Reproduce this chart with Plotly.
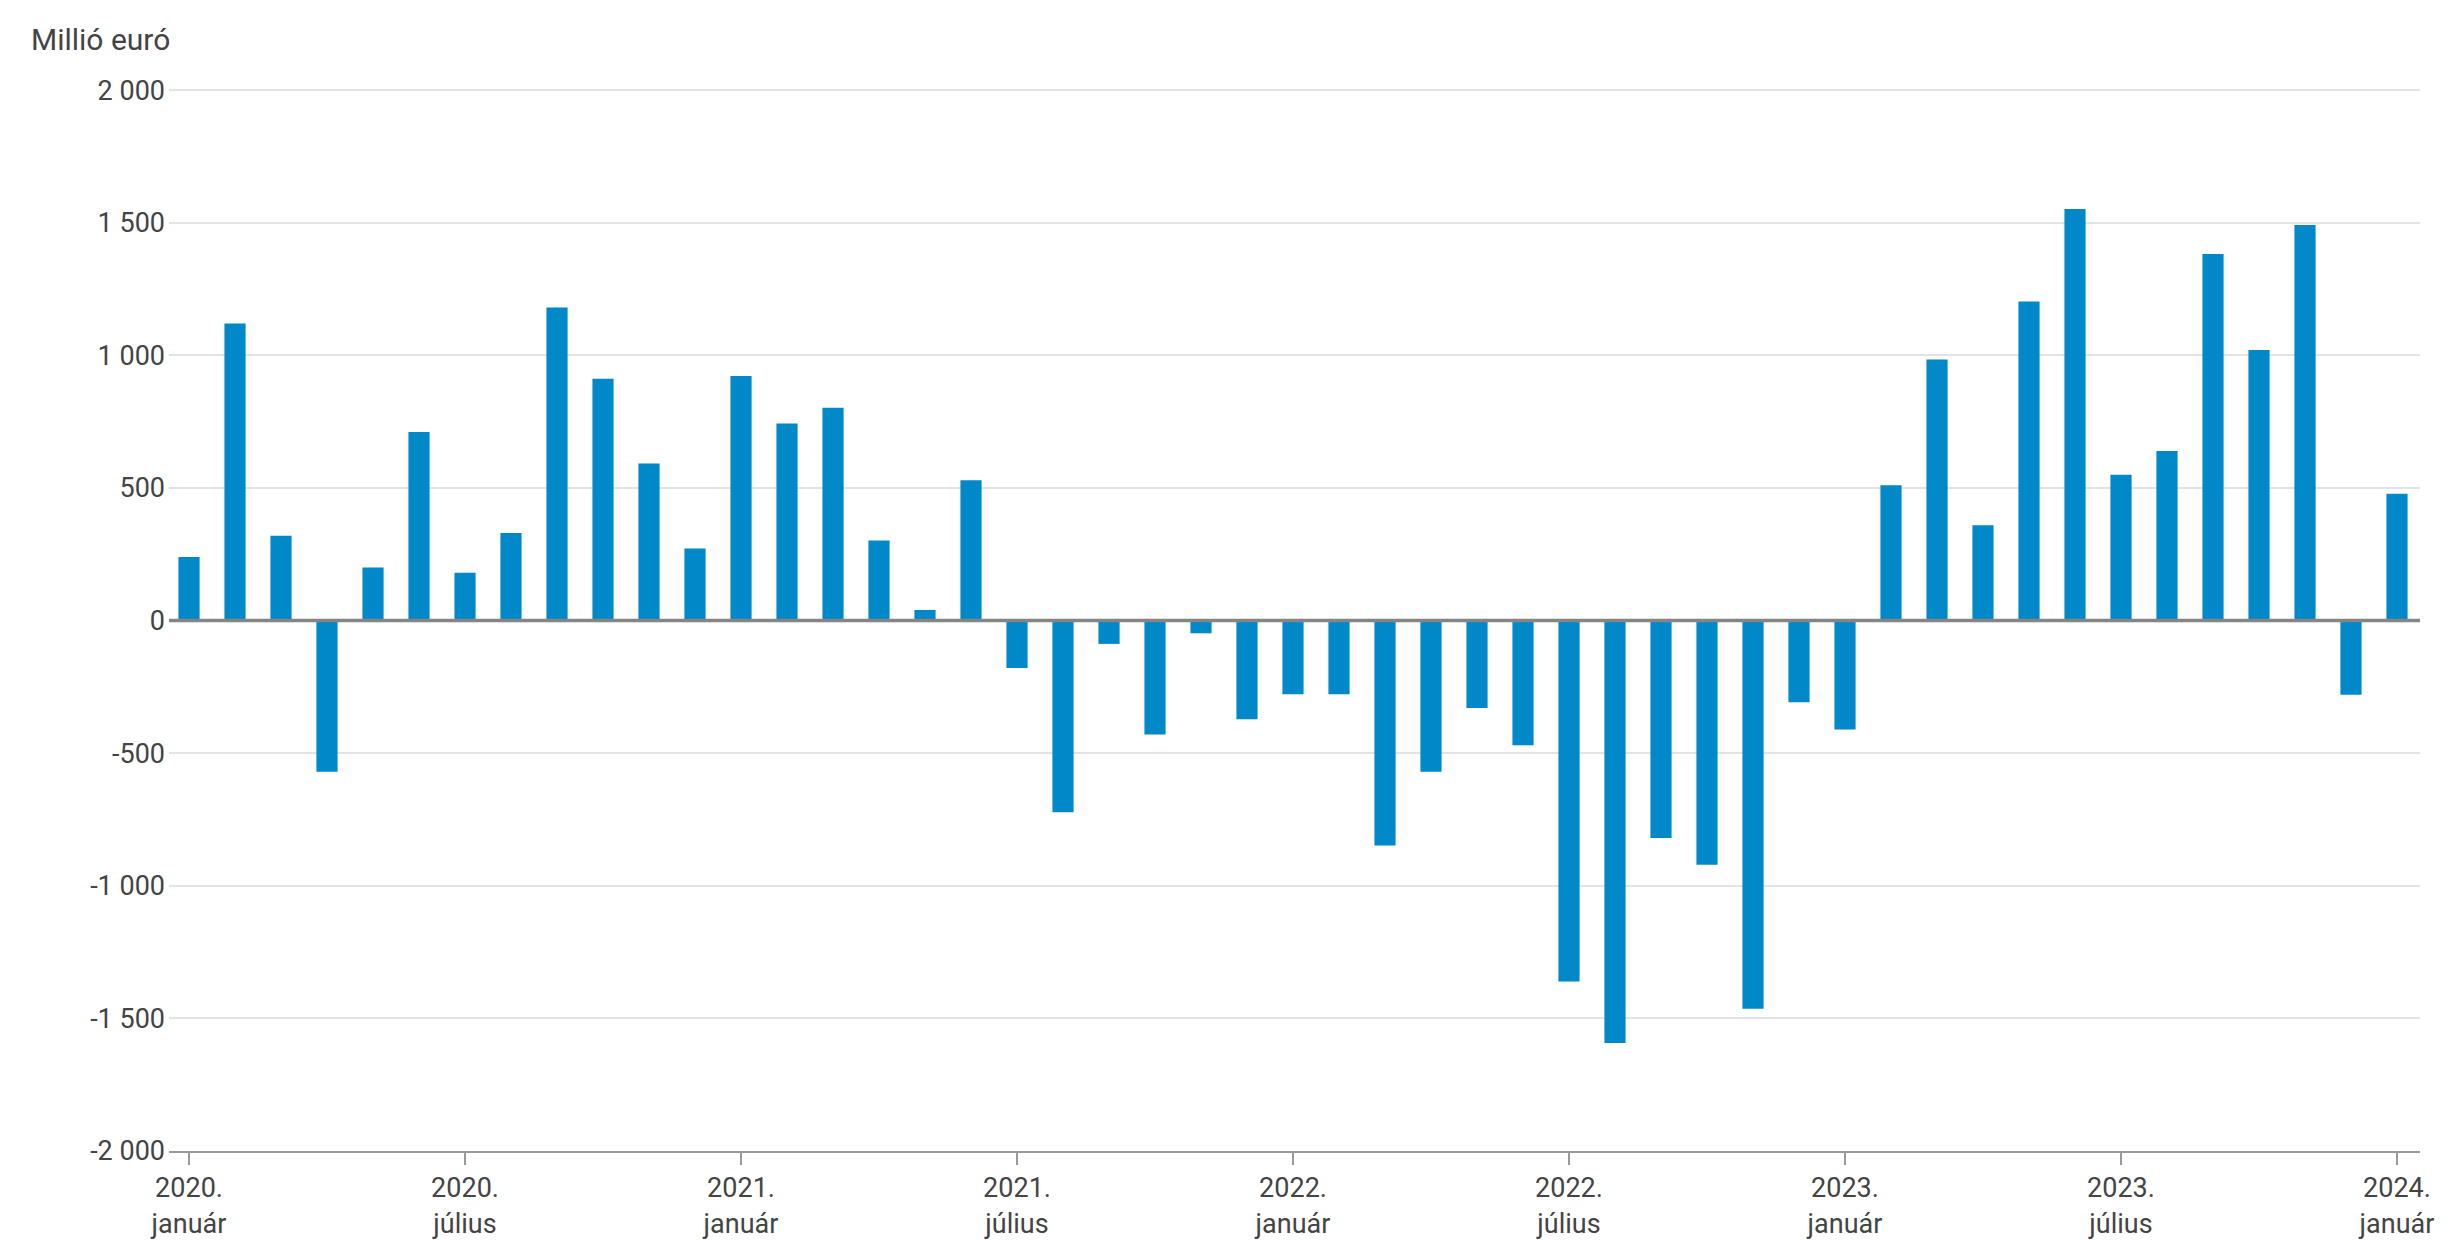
import plotly.graph_objects as go

# Monthly values, 2020 January .. 2024 January (million EUR)
months = [f"{y}-{m:02d}" for y in range(2020, 2025) for m in range(1, 13)][:49]
values = [
    240, 1120, 320, -570, 200, 711, 180, 330, 1180, 912, 592, 272,      # 2020
    922, 743, 802, 302, 40, 529, -179, -723, -88, -430, -48, -372,      # 2021
    -278, -278, -848, -570, -330, -470, -1361, -1593, -820, -921, -1464, -308,  # 2022
    -411, 510, 984, 359, 1203, 1552, 550, 639, 1382, 1020, 1491, -280,  # 2023
    478,                                                               # 2024
]
tick_idx = [0, 6, 12, 18, 24, 30, 36, 42, 48]
tick_text = ["2020.<br>január", "2020.<br>július", "2021.<br>január", "2021.<br>július",
             "2022.<br>január", "2022.<br>július", "2023.<br>január", "2023.<br>július",
             "2024.<br>január"]
y_vals = [-2000, -1500, -1000, -500, 0, 500, 1000, 1500, 2000]
y_text = ["-2 000", "-1 500", "-1 000", "-500", "0", "500", "1 000", "1 500", "2 000"]
unit_label = "Millió euró"

FONT = "Roboto"
TXT = "#444444"

L, R, T, B = 161, 51, 80, 98
PW = 2463 - L - R

fig = go.Figure()
fig.add_trace(go.Bar(
    x=list(range(len(values))), y=values,
    marker=dict(color="#0088C8", line=dict(width=0)),
    width=0.46,
    customdata=months,
    hovertemplate="%{customdata}: %{y}<extra></extra>",
))

fig.update_layout(
    width=2463, height=1241,
    margin=dict(l=L, r=R, t=T, b=B, autoexpand=False),
    plot_bgcolor="white", paper_bgcolor="white",
    showlegend=False,
    font=dict(family=FONT, size=27, color=TXT),
    xaxis=dict(
        range=[-0.435, 48.5], automargin=False,
        tickmode="array", tickvals=tick_idx, ticktext=tick_text,
        showgrid=False, zeroline=False,
        showline=True, linecolor="#9a9a9a", linewidth=2,
        ticks="outside", ticklen=12, tickwidth=1.5, tickcolor="#9a9a9a",
        tickfont=dict(family=FONT, size=27, color=TXT),
    ),
    yaxis=dict(
        range=[-2000, 2008], automargin=False,
        tickmode="array", tickvals=y_vals, ticktext=y_text,
        showgrid=True, gridcolor="#e3e3e3", gridwidth=1.5,
        zeroline=False, showline=False,
        ticks="", ticklabelstandoff=3,
        tickfont=dict(family=FONT, size=27, color=TXT),
    ),
    annotations=[dict(
        text=unit_label, xref="paper", yref="paper",
        x=-(L - 21) / PW, y=1.0, xanchor="left", yanchor="bottom",
        yshift=29, showarrow=False,
        font=dict(family=FONT, size=30, color=TXT),
    )],
    shapes=[dict(
        type="line", xref="paper", yref="y", x0=0, x1=1, y0=0, y1=0,
        line=dict(color="#858585", width=3.5), layer="above",
    )],
)

fig.write_html("out.html")
